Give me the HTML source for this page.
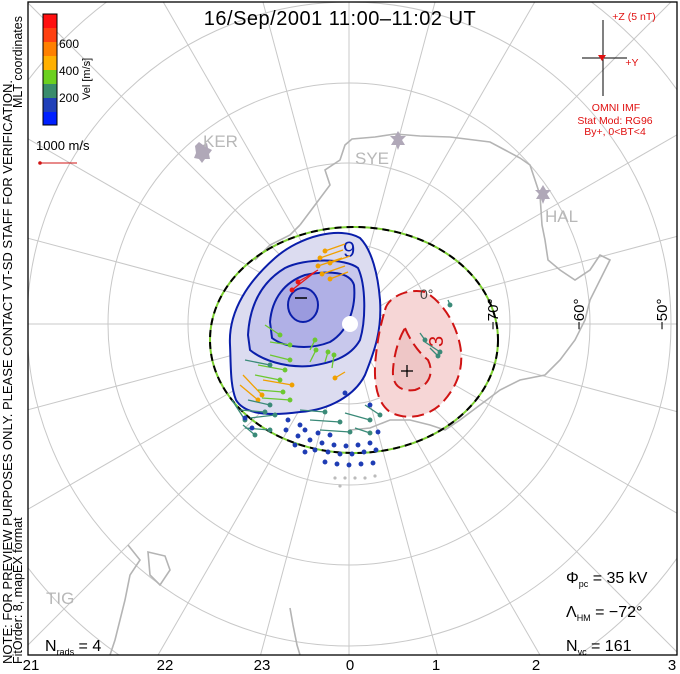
<!DOCTYPE html>
<html><head><meta charset="utf-8"><style>
html,body{margin:0;padding:0;background:#fff;overflow:hidden;}
svg{display:block;font-family:"Liberation Sans",sans-serif;}
</style></head><body>
<svg width="680" height="674" viewBox="0 0 680 674" xmlns="http://www.w3.org/2000/svg">
<defs><clipPath id="c"><rect x="28" y="2" width="649" height="653"/></clipPath></defs>
<rect width="680" height="674" fill="#fff"/>
<g clip-path="url(#c)">
 <g fill="none" stroke="#c8c8c8" stroke-width="1">
  <circle cx="349" cy="324" r="80"/><circle cx="349" cy="324" r="161"/>
  <circle cx="349" cy="324" r="241"/><circle cx="349" cy="324" r="322"/>
  <circle cx="349" cy="324" r="403"/><circle cx="349" cy="324" r="484"/>
  <g transform="translate(349,324)">
   <line x1="0" y1="0" x2="0" y2="600"/><line x1="0" y1="0" x2="0" y2="-600"/>
   <line x1="0" y1="0" x2="600" y2="0"/><line x1="0" y1="0" x2="-600" y2="0"/>
   <line x1="0" y1="0" x2="155" y2="580"/><line x1="0" y1="0" x2="-155" y2="580"/>
   <line x1="0" y1="0" x2="155" y2="-580"/><line x1="0" y1="0" x2="-155" y2="-580"/>
   <line x1="0" y1="0" x2="300" y2="520"/><line x1="0" y1="0" x2="-300" y2="520"/>
   <line x1="0" y1="0" x2="300" y2="-520"/><line x1="0" y1="0" x2="-300" y2="-520"/>
   <line x1="0" y1="0" x2="424" y2="424"/><line x1="0" y1="0" x2="-424" y2="424"/>
   <line x1="0" y1="0" x2="424" y2="-424"/><line x1="0" y1="0" x2="-424" y2="-424"/>
   <line x1="0" y1="0" x2="520" y2="300"/><line x1="0" y1="0" x2="-520" y2="300"/>
   <line x1="0" y1="0" x2="520" y2="-300"/><line x1="0" y1="0" x2="-520" y2="-300"/>
   <line x1="0" y1="0" x2="580" y2="155"/><line x1="0" y1="0" x2="-580" y2="155"/>
   <line x1="0" y1="0" x2="580" y2="-155"/><line x1="0" y1="0" x2="-580" y2="-155"/>
  </g>
 </g>
 <g fill="none" stroke="#b4b4b4" stroke-width="1.6">
  <path d="M300,225 L315,205 L330,185 L325,170 L340,160 L345,145 L352,139 L375,137 L395,134 L420,136 L450,137 L490,142 L505,150 L520,158 L530,165 L540,195 L542,225 L545,240 L548,260 L560,270 L575,280 L590,270 L600,255 L610,260 L590,300 L585,320 L575,340 L560,360 L545,375 L520,380 L500,390 L480,405 L460,420 L445,430 L430,425 L410,420 L390,420 L370,428 L350,430"/>
  <path d="M300,225 L290,235 L270,245 L255,260"/>
  <path d="M128,545 L140,560 L130,575 L125,600 L115,640 L110,655"/>
  <path d="M148,552 L165,556 L170,570 L160,585 L150,575 Z"/>
  <path d="M290,608 L293,625 L297,645 L300,655"/>
 </g>
 <g fill="#b0a8b8">
  <path d="M195,146 l4,-4 4,3 4,-2 1,5 4,2 -3,4 1,5 -5,0 -3,4 -3,-4 -5,-1 2,-5 z"/>
  <path d="M395,136 l3,-5 3,5 5,0 -4,4 3,5 -5,0 -2,5 -2,-5 -5,0 3,-5 -4,-4 z"/>
  <path d="M540,190 l3,-5 3,5 5,0 -4,4 3,5 -5,0 -2,5 -2,-5 -5,0 3,-5 -4,-4 z"/>
 </g>
 <g fill="#b8b8b8" font-size="17">
  <text x="203" y="147">KER</text>
  <text x="355" y="164">SYE</text>
  <text x="545" y="222">HAL</text>
  <text x="46" y="604">TIG</text>
 </g>
 <path d="M230,345 C228,310 250,280 275,258 C300,236 340,226 360,238 C372,250 378,275 380,300 C382,330 375,350 365,375 C355,395 330,410 300,412 C270,416 245,415 236,400 C230,385 231,365 230,345 Z" fill="#dcdcf0" stroke="#0a1eaa" stroke-width="2"/>
 <path d="M248,335 C250,300 265,280 285,268 C305,258 345,258 358,268 C366,285 366,320 360,340 C350,358 330,363 310,366 C285,368 262,360 250,350 Z" fill="#c8c8ec" stroke="#0a1eaa" stroke-width="2"/>
 <path d="M270,322 C272,298 285,282 305,275 C330,270 350,272 354,285 C356,305 350,330 330,342 C310,350 285,348 272,338 Z" fill="#b0b0e6" stroke="#0a1eaa" stroke-width="2"/>
 <ellipse cx="303" cy="305" rx="15" ry="17" fill="#9a9ade" stroke="#0a1eaa" stroke-width="2"/>
 <line x1="295" y1="298" x2="307" y2="298" stroke="#000" stroke-width="1.5"/>
 <text x="343" y="257" font-size="22" fill="#0a1eaa">9</text>
 <path d="M385,310 C388,296 410,288 425,292 C440,300 455,320 460,345 C465,370 455,390 440,405 C425,418 405,420 390,412 C376,402 373,380 376,355 C378,335 382,320 385,310 Z" fill="#f6d6d6" stroke="#d01414" stroke-width="2" stroke-dasharray="12,6"/>
 <path d="M405,328 C410,340 418,352 428,360 C434,372 430,385 415,390 C400,392 392,385 393,370 C394,355 398,340 405,328 Z" fill="#eec6c6" stroke="#d01414" stroke-width="2" stroke-dasharray="12,6"/>
 <line x1="401" y1="371" x2="413" y2="371" stroke="#000" stroke-width="1.3"/><line x1="407" y1="365" x2="407" y2="377" stroke="#000" stroke-width="1.3"/>
 <text x="0" y="0" font-size="20" fill="#d01414" transform="translate(443,347) rotate(-90)">3</text>
 <text x="420" y="299" font-size="14" fill="#444">0°</text>
 <ellipse cx="354" cy="340" rx="144" ry="113" fill="none" stroke="#7cd030" stroke-width="2"/>
 <ellipse cx="354" cy="340" rx="144" ry="113" fill="none" stroke="#000" stroke-width="2" stroke-dasharray="7,5"/>
 <circle cx="350" cy="324" r="8" fill="#fff"/>
 <g stroke-width="1.3">
  <g stroke="#f0a000" fill="#f0a000">
   <line x1="325" y1="251" x2="345" y2="244"/><circle cx="325" cy="251" r="1.8"/>
   <line x1="320" y1="258" x2="343" y2="250"/><circle cx="320" cy="258" r="1.8"/>
   <line x1="318" y1="266" x2="342" y2="258"/><circle cx="318" cy="266" r="1.8"/>
   <line x1="330" y1="263" x2="350" y2="256"/><circle cx="330" cy="263" r="1.8"/>
   <line x1="322" y1="274" x2="345" y2="266"/><circle cx="322" cy="274" r="1.8"/>
   <line x1="330" y1="279" x2="348" y2="272"/><circle cx="330" cy="279" r="1.8"/>
   <line x1="243" y1="375" x2="262" y2="395"/><circle cx="262" cy="395" r="1.8"/>
   <line x1="240" y1="385" x2="258" y2="400"/><circle cx="258" cy="400" r="1.8"/>
   <line x1="335" y1="378" x2="345" y2="372"/><circle cx="335" cy="378" r="1.8"/>
   <line x1="263" y1="380" x2="292" y2="385"/><circle cx="292" cy="385" r="1.8"/>
  </g>
  <g stroke="#e81818" fill="#e81818">
   <line x1="292" y1="290" x2="315" y2="272"/><circle cx="292" cy="290" r="1.8"/>
   <line x1="298" y1="282" x2="318" y2="270"/><circle cx="298" cy="282" r="1.8"/>
  </g>
  <g stroke="#6cc830" fill="#6cc830">
   <line x1="265" y1="325" x2="280" y2="335"/><circle cx="280" cy="335" r="1.8"/>
   <line x1="270" y1="342" x2="290" y2="345"/><circle cx="290" cy="345" r="1.8"/>
   <line x1="270" y1="355" x2="290" y2="360"/><circle cx="290" cy="360" r="1.8"/>
   <line x1="310" y1="350" x2="315" y2="340"/><circle cx="315" cy="340" r="1.8"/>
   <line x1="310" y1="362" x2="316" y2="350"/><circle cx="316" cy="350" r="1.8"/>
   <line x1="325" y1="362" x2="328" y2="352"/><circle cx="328" cy="352" r="1.8"/>
   <line x1="332" y1="368" x2="334" y2="355"/><circle cx="334" cy="355" r="1.8"/>
   <line x1="258" y1="365" x2="285" y2="370"/><circle cx="285" cy="370" r="1.8"/>
   <line x1="255" y1="375" x2="280" y2="380"/><circle cx="280" cy="380" r="1.8"/>
   <line x1="258" y1="390" x2="283" y2="392"/><circle cx="283" cy="392" r="1.8"/>
   <line x1="262" y1="398" x2="290" y2="400"/><circle cx="290" cy="400" r="1.8"/>
  </g>
  <g stroke="#3a8a78" fill="#3a8a78">
   <line x1="245" y1="360" x2="270" y2="365"/><circle cx="270" cy="365" r="1.8"/>
   <line x1="248" y1="400" x2="270" y2="405"/><circle cx="270" cy="405" r="1.8"/>
   <line x1="240" y1="410" x2="265" y2="412"/><circle cx="265" cy="412" r="1.8"/>
   <line x1="250" y1="418" x2="275" y2="415"/><circle cx="275" cy="415" r="1.8"/>
   <line x1="245" y1="428" x2="270" y2="430"/><circle cx="270" cy="430" r="1.8"/>
   <line x1="300" y1="410" x2="325" y2="412"/><circle cx="325" cy="412" r="1.8"/>
   <line x1="310" y1="420" x2="340" y2="422"/><circle cx="340" cy="422" r="1.8"/>
   <line x1="320" y1="430" x2="350" y2="432"/><circle cx="350" cy="432" r="1.8"/>
   <line x1="345" y1="413" x2="370" y2="420"/><circle cx="370" cy="420" r="1.8"/>
   <line x1="355" y1="428" x2="370" y2="433"/><circle cx="370" cy="433" r="1.8"/>
   <line x1="365" y1="405" x2="380" y2="415"/><circle cx="380" cy="415" r="1.8"/>
   <line x1="420" y1="333" x2="425" y2="340"/><circle cx="425" cy="340" r="1.8"/>
   <line x1="425" y1="342" x2="440" y2="352"/><circle cx="440" cy="352" r="1.8"/>
   <line x1="430" y1="348" x2="438" y2="356"/><circle cx="438" cy="356" r="1.8"/>
   <line x1="448" y1="300" x2="450" y2="305"/><circle cx="450" cy="305" r="1.8"/>
   <line x1="232" y1="400" x2="245" y2="420"/><circle cx="245" cy="420" r="1.8"/>
   <line x1="243" y1="425" x2="255" y2="435"/><circle cx="255" cy="435" r="1.8"/>
  </g>
  <g stroke="#1e3cb4" fill="#1e3cb4">
   <circle cx="245" cy="418" r="1.8"/><circle cx="252" cy="428" r="1.8"/>
   <circle cx="345" cy="393" r="1.8"/>
   <circle cx="288" cy="420" r="1.8"/><circle cx="300" cy="425" r="1.8"/><circle cx="286" cy="430" r="1.8"/><circle cx="298" cy="436" r="1.8"/>
   <circle cx="310" cy="440" r="1.8"/><circle cx="322" cy="443" r="1.8"/><circle cx="334" cy="445" r="1.8"/><circle cx="346" cy="446" r="1.8"/><circle cx="358" cy="445" r="1.8"/><circle cx="370" cy="443" r="1.8"/>
   <circle cx="315" cy="450" r="1.8"/><circle cx="328" cy="452" r="1.8"/><circle cx="340" cy="454" r="1.8"/><circle cx="352" cy="454" r="1.8"/><circle cx="364" cy="452" r="1.8"/><circle cx="376" cy="450" r="1.8"/>
   <circle cx="325" cy="462" r="1.8"/><circle cx="337" cy="464" r="1.8"/><circle cx="349" cy="465" r="1.8"/><circle cx="361" cy="464" r="1.8"/><circle cx="373" cy="463" r="1.8"/>
   <circle cx="305" cy="430" r="1.8"/><circle cx="318" cy="433" r="1.8"/><circle cx="330" cy="435" r="1.8"/><circle cx="295" cy="445" r="1.8"/><circle cx="305" cy="452" r="1.8"/>
   <circle cx="370" cy="405" r="1.8"/><circle cx="378" cy="432" r="1.8"/>
  </g>
  <g fill="#bbb">
   <circle cx="335" cy="478" r="1.6"/><circle cx="345" cy="478" r="1.6"/><circle cx="355" cy="478" r="1.6"/><circle cx="365" cy="478" r="1.6"/><circle cx="375" cy="476" r="1.6"/><circle cx="340" cy="486" r="1.6"/>
  </g>
 </g>
 <g font-size="15" fill="#000">
  <text transform="translate(498,330) rotate(-90)">−70°</text>
  <text transform="translate(584,330) rotate(-90)">−60°</text>
  <text transform="translate(667,330) rotate(-90)">−50°</text>
 </g>
</g>
<rect x="28" y="2" width="649" height="653" fill="none" stroke="#000" stroke-width="1.3"/>
<text x="340" y="25" font-size="20" text-anchor="middle" letter-spacing="0.5">16/Sep/2001 11:00–11:02 UT</text>
<g stroke="none">
 <rect x="43" y="14" width="14" height="14" fill="#ff1010"/>
 <rect x="43" y="28" width="14" height="14" fill="#ff4010"/>
 <rect x="43" y="42" width="14" height="14" fill="#ff8000"/>
 <rect x="43" y="56" width="14" height="14" fill="#ffb000"/>
 <rect x="43" y="70" width="14" height="14" fill="#6cd020"/>
 <rect x="43" y="84" width="14" height="14" fill="#3a8c6c"/>
 <rect x="43" y="98" width="14" height="14" fill="#2040b8"/>
 <rect x="43" y="112" width="14" height="13" fill="#0020ff"/>
</g>
<rect x="43" y="14" width="14" height="111" fill="none" stroke="#000" stroke-width="1"/>
<g font-size="12"><text x="59" y="48">600</text><text x="59" y="75">400</text><text x="59" y="102">200</text></g>
<text transform="translate(90,100) rotate(-90)" font-size="11">Vel [m/s]</text>
<text x="36" y="150" font-size="13">1000 m/s</text>
<line x1="40" y1="163" x2="77" y2="163" stroke="#d01414" stroke-width="1"/><circle cx="40" cy="163" r="1.8" fill="#d01414"/>
<g font-size="12.5">
 <text transform="translate(12,664) rotate(-90)" textLength="584" lengthAdjust="spacingAndGlyphs">NOTE: FOR PREVIEW PURPOSES ONLY. PLEASE CONTACT VT-SD STAFF FOR VERIFICATION.</text>
 <text transform="translate(22,664) rotate(-90)">FitOrder: 8, mapEX format</text>
 <text transform="translate(22,108) rotate(-90)">MLT coordinates</text>
</g>
<g stroke="#000" stroke-width="1">
 <line x1="603" y1="20" x2="603" y2="96"/><line x1="582" y1="58" x2="627" y2="58"/>
</g>
<path d="M598,55 L606,55 L602,61 Z" fill="#e01010"/>
<g fill="#e01010" font-size="10.5" text-anchor="middle">
 <text x="634" y="20">+Z (5 nT)</text>
 <text x="632" y="66">+Y</text>
 <text x="616" y="111">OMNI IMF</text>
 <text x="615" y="124">Stat Mod: RG96</text>
 <text x="615" y="135">By+, 0&lt;BT&lt;4</text>
</g>
<g font-size="16">
 <text x="566" y="583">Φ<tspan font-size="9" dy="4">pc</tspan><tspan dy="-4"> =  35  kV</tspan></text>
 <text x="566" y="617">Λ<tspan font-size="9" dy="4">HM</tspan><tspan dy="-4"> =  −72°</tspan></text>
 <text x="566" y="651">N<tspan font-size="9" dy="4">vc</tspan><tspan dy="-4"> =  161</tspan></text>
 <text x="45" y="651">N<tspan font-size="9" dy="4">rads</tspan><tspan dy="-4"> =  4</tspan></text>
</g>
<g font-size="15" text-anchor="middle">
 <text x="31" y="670">21</text><text x="165" y="670">22</text><text x="262" y="670">23</text>
 <text x="350" y="670">0</text><text x="436" y="670">1</text><text x="536" y="670">2</text><text x="672" y="670">3</text>
</g>
</svg>
</body></html>
